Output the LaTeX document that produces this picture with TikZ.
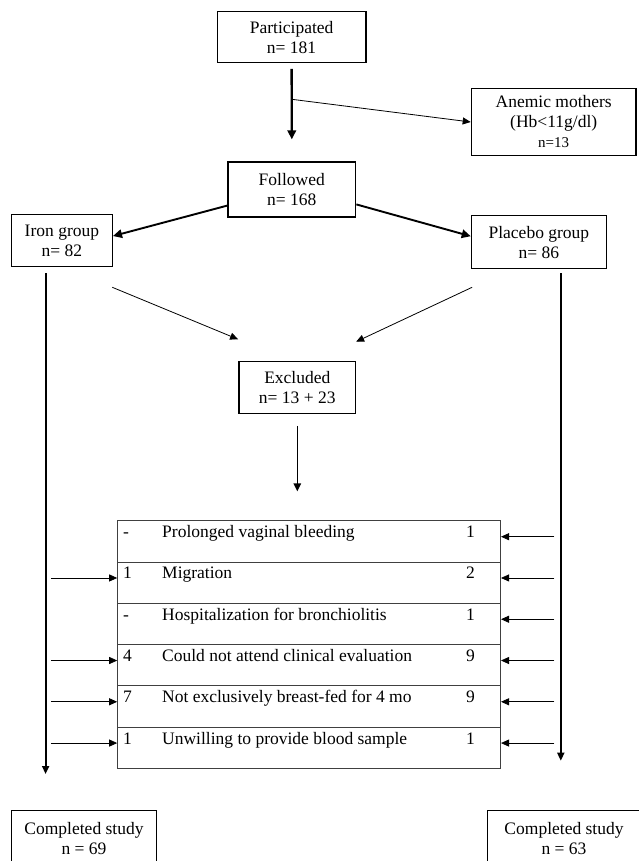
\documentclass[tikz,border=0pt]{standalone}
\usepackage{tikz}
\usepackage{fontspec}
\setmainfont{Liberation Serif}
\usetikzlibrary{arrows.meta}

\tikzset{
	box/.style={draw,line width=1.3pt,align=center,inner sep=0pt},
	rowbox/.style={draw=black!75,line width=0.8pt,minimum width=383pt,minimum height=41.3pt,inner sep=0pt},
	cell/.style={inner sep=0pt},
	bigarrow/.style={line width=1.9pt,-{Triangle[length=9pt,width=8.5pt]}},
	downarrow/.style={line width=1.8pt,-{Triangle[length=8pt,width=7pt]}},
	midarrow/.style={line width=1.3pt,-{Triangle[length=8pt,width=7.5pt]}},
	thinarrow/.style={line width=0.8pt,-{Triangle[length=8pt,width=7pt]}}
}

\begin{document}
\begin{tikzpicture}[x=1pt,y=-1pt,font=\fontsize{17.5}{20}\selectfont]
	\useasboundingbox (0,0) rectangle (638,861);
	
	\node[box,minimum width=148.6pt,minimum height=51pt] (part) at (291.6,37.2) {Participated\\n= 181};
	\node[box,minimum width=164.7pt,minimum height=67.4pt] (anem) at (553.7,122) {Anemic mothers\\(Hb<11g/dl)\\{\fontsize{15}{18}\selectfont n=13}};
	\node[box,minimum width=127.8pt,minimum height=55pt] (foll) at (291.8,189.5) {Followed\\n= 168};
	\node[box,minimum width=100.9pt,minimum height=52.4pt] (iron) at (61.9,240.5) {Iron group\\n= 82};
	\node[box,minimum width=135.1pt,minimum height=53pt] (plac) at (538.9,242.2) {Placebo group\\n= 86};
	\node[box,minimum width=116.8pt,minimum height=52pt] (excl) at (297.3,387.3) {Excluded\\n= 13 + 23};
	\node[box,minimum width=145.3pt,minimum height=56pt] (comp1) at (84,838.7) {Completed study\\n = 69};
	\node[box,minimum width=153.4pt,minimum height=56pt] (comp2) at (564,838.7) {Completed study\\n = 63};
	
	\coordinate (split) at (291.8,99.3);
	\coordinate (ironTop) at (45.6,273.3);
	\coordinate (ironBot) at (45.6,774);
	\coordinate (placTop) at (560.8,273.3);
	\coordinate (placBot) at (560.8,760.7);
	\coordinate (ironDiag) at (112.3,287.3);
	\coordinate (placDiag) at (472.1,287.3);
	\coordinate (exclL) at (238.1,339.3);
	\coordinate (exclR) at (356.1,341.7);
	
	\draw[bigarrow,line width=2.3pt] ([yshift=-5.6pt]part.south) -- ([yshift=22pt]foll.north);
	\draw[thinarrow] (split) -- (anem.west);
	\draw[bigarrow] (foll.194) -- (iron.5);
	\draw[bigarrow] (foll.347) -- (plac.175);
	\draw[downarrow] (ironTop) -- (ironBot);
	\draw[downarrow] (placTop) -- (placBot);
	\draw[thinarrow] (ironDiag) -- (exclL);
	\draw[thinarrow] (placDiag) -- (exclR);
	\draw[midarrow] ([yshift=-12pt]excl.south) -- ([yshift=-77.4pt]excl.south);
	
	\foreach \i/\a/\b/\c in {1/-/Prolonged vaginal bleeding/1,2/1/Migration/2,3/-/Hospitalization for bronchiolitis/1,4/4/Could not attend clinical evaluation/9,5/7/Not exclusively breast-fed for 4 mo/9,6/1/Unwilling to provide blood sample/1}{
		\node[rowbox] (row\i) at (309.1,{520.7+41.27*(\i-1)+20.63}) {};
		\node[cell,anchor=base west] (icnt\i) at (123,{520.7+41.27*(\i-1)+17}) {\a};
		\node[cell,anchor=base west] (reason\i) at (162,{520.7+41.27*(\i-1)+17}) {\b};
		\node[cell,anchor=base] (pcnt\i) at (470.5,{520.7+41.27*(\i-1)+17}) {\c};
		\coordinate (pin\i) at (554.3,{520.7+41.27*(\i-1)+16});
		\draw[thinarrow] (pin\i) -- (row\i.east |- pin\i);
	}
	\foreach \i in {2,4,5,6}{
		\coordinate (iin\i) at (50.9,{520.7+41.27*(\i-1)+16});
		\draw[thinarrow] (iin\i) -- (row\i.west |- iin\i);
	}
\end{tikzpicture}
\end{document}
